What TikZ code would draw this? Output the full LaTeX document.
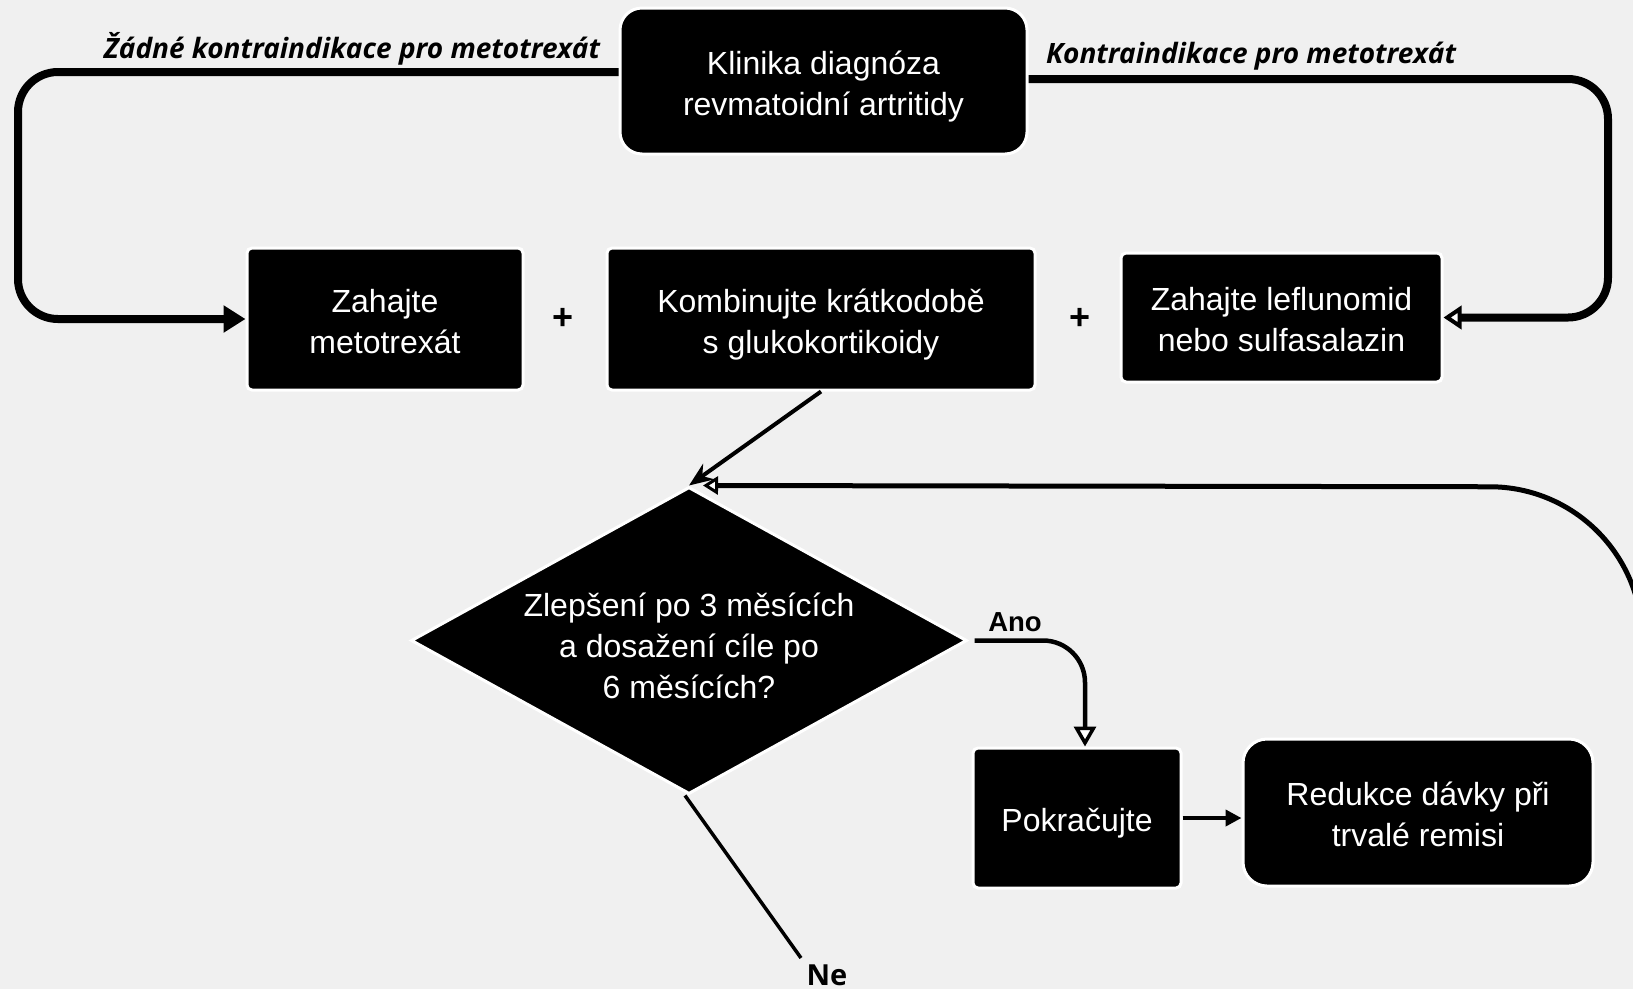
\documentclass[tikz,border=0pt]{standalone}
\usepackage{fontspec}
\setmainfont{Liberation Sans}
\newfontfamily\lblfont{Open Sans}
\usetikzlibrary{arrows.meta,shapes.geometric}
\definecolor{bg}{HTML}{F0F0F0}
\newcommand\tstrut{\rule{0pt}{34pt}}
\newcommand\dstrut{\rule{0pt}{40pt}}
\newcommand\bstrut{\rule[-7pt]{0pt}{7pt}}
\begin{document}
\begin{tikzpicture}[x=1pt,y=-1pt,
  box/.style={fill=black, draw=white, line width=3pt, text=white, align=center,
    font=\fontsize{32}{41}\selectfont, inner sep=0pt, rounded corners=5pt},
  dia/.style={diamond, aspect=1.8, fill=black, draw=white, line width=3pt, text=white,
    align=center, font=\fontsize{32}{41}\selectfont, inner ysep=0pt, inner xsep=-14pt,
    minimum width=556pt, minimum height=307pt},
  plus/.style={font=\bfseries\fontsize{36}{40}\selectfont, text=black},
  lbl/.style={font=\lblfont\bfseries\itshape\fontsize{28}{32}\selectfont, text=black, inner sep=0pt},
  anolbl/.style={font=\bfseries\fontsize{27.5}{32}\selectfont, text=black, inner sep=0pt},
  nelbl/.style={font=\lblfont\bfseries\fontsize{29}{34}\selectfont, text=black, inner sep=0pt},
  looparrow/.style={line width=8pt, rounded corners=40pt, -{Triangle[length=22pt,width=26pt]}},
  loopopen/.style={line width=8pt, rounded corners=40pt, -{Triangle[length=18pt,width=23pt,fill=white,line width=4pt]}},
  conn/.style={line width=4pt},
  fbline/.style={line width=5pt, rounded corners=152pt, -{Triangle[length=15pt,width=18pt,fill=white,line width=3pt]}},
  anoline/.style={line width=4.5pt, rounded corners=42pt, -{Triangle[length=20pt,width=22pt,fill=white,line width=3.5pt]}},
  neline/.style={line width=3.5pt}
]
\useasboundingbox (0,0) rectangle (1633,989);
\fill[bg] (0,0) rectangle (1633,989);

% nodes
\node[box, rounded corners=22pt, minimum width=407pt, minimum height=146pt] (klin) at (823.5,81) {\tstrut Klinika diagnóza\\revmatoidní artritidy\bstrut};
\node[box, minimum width=276pt, minimum height=142pt] (mtx) at (385,319) {\tstrut Zahajte\\metotrexát\bstrut};
\node[box, minimum width=428pt, minimum height=142pt] (komb) at (821,319) {\tstrut Kombinujte krátkodobě\\s glukokortikoidy\bstrut};
\node[box, minimum width=321pt, minimum height=129pt] (lef) at (1281.5,317.5) {\tstrut Zahajte leflunomid\\nebo sulfasalazin\bstrut};
\node[plus] (p1) at (563,319) {+};
\node[plus] (p2) at (1080,319) {+};
\node[dia] (dec) at (689,640.5) {\dstrut Zlepšení po 3 měsících\\a dosažení cíle po\\6 měsících?\bstrut};
\node[box, minimum width=208pt, minimum height=140pt] (pok) at (1077,818) {\tstrut Pokračujte\bstrut};
\node[box, rounded corners=24pt, minimum width=350pt, minimum height=147pt] (red) at (1418,812.5) {\tstrut Redukce dávky při\\trvalé remisi\bstrut};

% labels
\node[lbl, anchor=base] (l1) at (352,58) {Žádné kontraindikace pro metotrexát};
\node[lbl, anchor=base] (l2) at (1251,63) {Kontraindikace pro metotrexát};
\node[anolbl, anchor=base] (ano) at (1015,631) {Ano};
\node[nelbl, anchor=base] (ne) at (827,985) {Ne};

% connectors
\draw[looparrow] ([yshift=9pt]klin.west) -- (18,72) -- (18,319) -- (mtx.west);
\draw[loopopen] ([yshift=2pt]klin.east) -- (1608,79) -- (1608,317.5) -- (lef.east);
\draw[conn, -{Stealth[length=24pt,width=19pt]}] (komb.south) -- (dec.north);
\coordinate (fbsrc) at (1642,1100);
\begin{scope}
\clip (0,0) rectangle (1633,989);
\draw[fbline] (fbsrc) -- (1642,487) -- ([xshift=14pt]dec.north);
\end{scope}
\draw[anoline] ([xshift=6pt]dec.east) -| ([xshift=8pt]pok.north);
\draw[conn, -{Triangle[length=16pt,width=16pt]}] (pok.east) -- (pok.east -| red.west);
\coordinate (neend) at (801,958);
\draw[neline] ([xshift=-4pt]dec.south) -- (neend);
\end{tikzpicture}
\end{document}
